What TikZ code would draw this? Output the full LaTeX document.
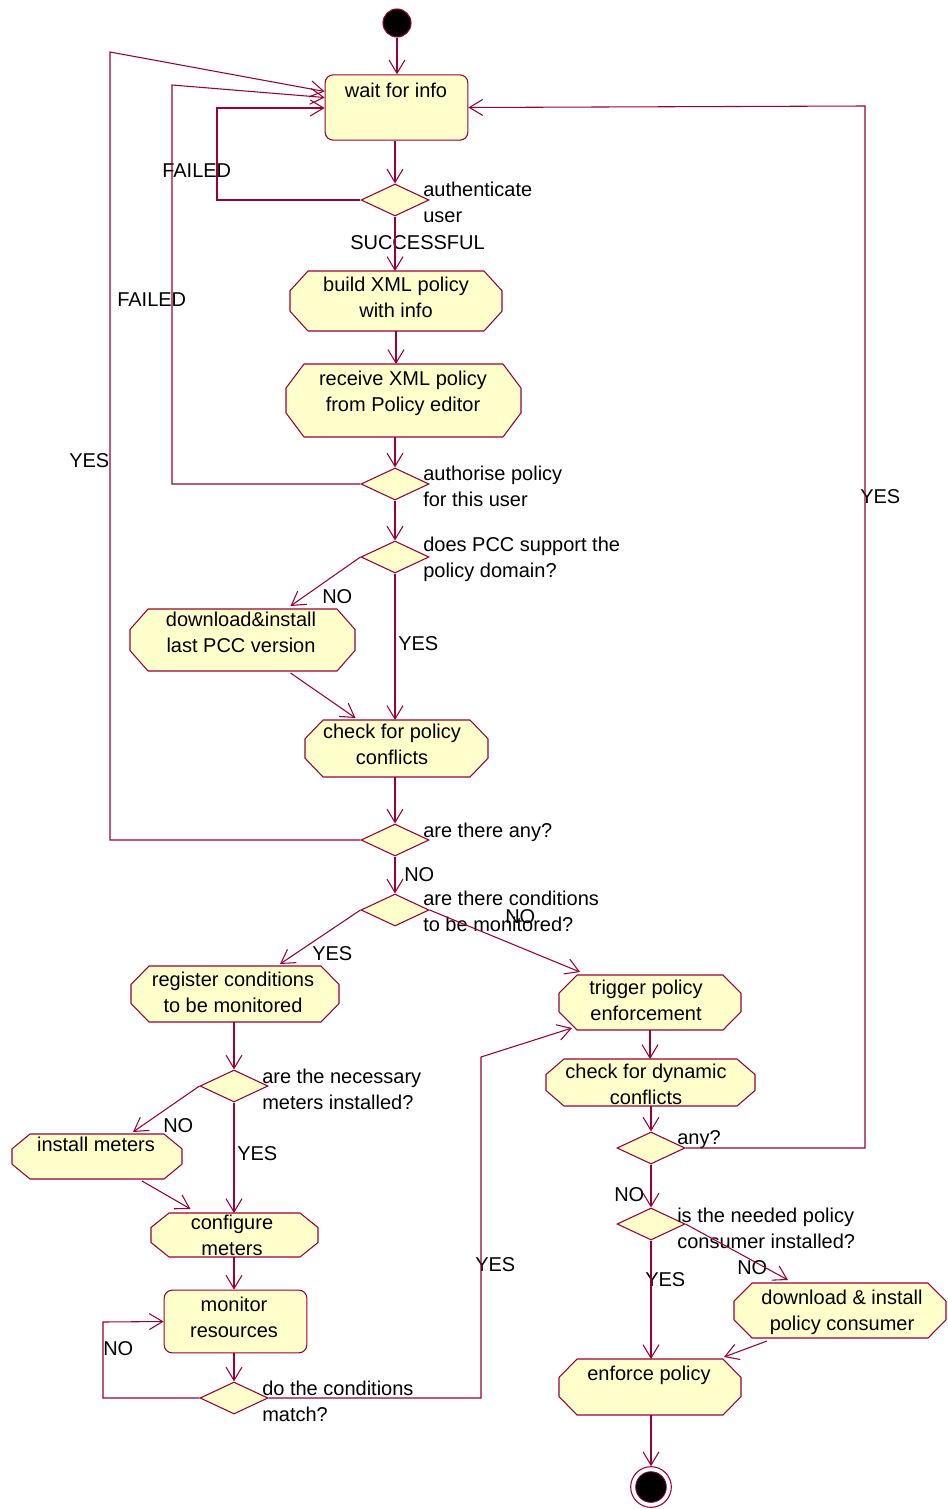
\documentclass[tikz,border=0pt]{standalone}
\usepackage{fontspec}
\setmainfont{Liberation Sans}
\usetikzlibrary{arrows.meta,shapes.geometric,calc}
\definecolor{rose}{RGB}{155,0,55}
\definecolor{actfill}{RGB}{255,255,204}
\tikzset{
  ln/.style={draw=rose, line width=0.8pt},
  arr/.style={ln, -{Straight Barb[length=10pt,width=12pt]}},
  area/.style={rectangle, draw=none, fill=none, inner sep=0pt, outer sep=0pt},
  txt/.style={inner sep=0pt, align=center, anchor=north, font=\fontsize{15}{19.5}\selectfont},
  lbl/.style={inner sep=0pt, align=left, anchor=north west, font=\fontsize{15}{19.5}\selectfont},
  dia/.style={diamond, draw=rose, fill=actfill, line width=0.8pt, minimum width=51pt, minimum height=24pt, inner sep=0pt},
  rbox/.style={rectangle, rounded corners=6pt, draw=rose, fill=actfill, line width=0.8pt, inner sep=0pt}
}
% name, left, top, right, bottom
\newcommand\actshape[5]{%
  \filldraw[ln, fill=actfill, line join=round]
    ({#2+18},#3) -- ({#4-18},#3) -- (#4,{#3+0.33*(#5-#3)}) -- (#4,{#5-0.33*(#5-#3)})
    -- ({#4-18},#5) -- ({#2+18},#5) -- (#2,{#5-0.33*(#5-#3)}) -- (#2,{#3+0.33*(#5-#3)}) -- cycle;
  \node[area, minimum width={(#4-#2)*0.75pt}, minimum height={(#5-#3)*0.75pt}] (#1) at ({(#2+#4)/2},{(#3+#5)/2}) {};
}
\begin{document}
\begin{tikzpicture}[x=0.75pt,y=-0.75pt]
\useasboundingbox (0,0) rectangle (947,1509);

% start / end
\node[circle, fill=black, draw=rose, line width=0.8pt, minimum size=21pt, inner sep=0pt] (start) at (397,23) {};
\node[circle, fill=white, draw=rose, line width=0.8pt, minimum size=30.5pt, inner sep=0pt] (endo) at (651,1487) {};
\node[circle, fill=black, draw=rose, line width=0.6pt, minimum size=23pt, inner sep=0pt] (endi) at (endo) {};

% rounded boxes
\node[rbox, minimum width=107pt, minimum height=49pt] (wait) at (396.5,107.5) {};
\node[rbox, minimum width=107pt, minimum height=47pt] (mon) at (235.5,1321.5) {};

% activity shapes
\actshape{build}{290}{271}{502}{331}
\actshape{receive}{286}{364}{521}{437}
\actshape{dl}{130}{609}{355}{671}
\actshape{check}{305}{720}{488}{777}
\actshape{reg}{131}{966}{339}{1022}
\actshape{inst}{12}{1134}{182}{1179}
\actshape{conf}{151}{1213}{318}{1257}
\actshape{trig}{559}{975}{741}{1030}
\actshape{dyn}{546}{1059}{755}{1106}
\actshape{pc}{734}{1283}{946}{1338}
\actshape{enf}{559}{1359}{741}{1415}

% decisions
\node[dia] (d1) at (395,200) {};
\node[dia] (d2) at (395,484) {};
\node[dia] (d3) at (395,557) {};
\node[dia] (d4) at (395,840) {};
\node[dia] (d5) at (395,910) {};
\node[dia] (d6) at (234,1086) {};
\node[dia] (d7) at (234,1398) {};
\node[dia] (d8) at (651,1148) {};
\node[dia] (d9) at (651,1224) {};

% box texts
\node[txt] (wait-t) at (396,82.5) {wait for info};
\node[txt] (build-t) at (396,276.5) {build XML policy\\with info};
\node[txt] (receive-t) at (403,370.5) {receive XML policy\\from Policy editor};
\node[txt] (dl-t) at (241,611.5) {download\&install\\last PCC version};
\node[txt] (check-t) at (392,723.5) {check for policy\\conflicts};
\node[txt] (reg-t) at (233,971.5) {register conditions\\to be monitored};
\node[txt] (inst-t) at (96,1136.5) {install meters};
\node[txt] (conf-t) at (232,1214.5) {configure\\meters};
\node[txt] (mon-t) at (234,1296.5) {monitor\\resources};
\node[txt] (trig-t) at (646,979.5) {trigger policy\\enforcement};
\node[txt] (dyn-t) at (646,1063.5) {check for dynamic\\conflicts};
\node[txt] (pc-t) at (842,1289.5) {download \& install\\policy consumer};
\node[txt] (enf-t) at (649,1365.5) {enforce policy};

% labels
\node[lbl] (l1) at (423,181.5) {authenticate\\user};
\node[lbl] (l2) at (162,163.5) {FAILED};
\node[lbl] (l3) at (350,235.5) {SUCCESSFUL};
\node[lbl] (l4) at (117,292.5) {FAILED};
\node[lbl] (l5) at (69,453.5) {YES};
\node[lbl] (l6) at (423,465.5) {authorise policy\\for this user};
\node[lbl] (l7) at (423,536.5) {does PCC support the\\policy domain?};
\node[lbl] (l8) at (322,589.5) {NO};
\node[lbl] (l9) at (398,636.5) {YES};
\node[lbl] (l10) at (423,822.5) {are there any?};
\node[lbl] (l11) at (404,867.5) {NO};
\node[lbl] (l12) at (423,890.5) {are there conditions\\to be monitored?};
\node[lbl] (l13) at (505,909.5) {NO};
\node[lbl] (l14) at (312,946.5) {YES};
\node[lbl] (l15) at (262,1068.5) {are the necessary\\meters installed?};
\node[lbl] (l16) at (163,1118.5) {NO};
\node[lbl] (l17) at (237,1146.5) {YES};
\node[lbl] (l18) at (262,1380.5) {do the conditions\\match?};
\node[lbl] (l19) at (103,1341.5) {NO};
\node[lbl] (l20) at (475,1257.5) {YES};
\node[lbl] (l21) at (860,489.5) {YES};
\node[lbl] (l22) at (677,1130.5) {any?};
\node[lbl] (l23) at (614,1187.5) {NO};
\node[lbl] (l24) at (677,1207.5) {is the needed policy\\consumer installed?};
\node[lbl] (l25) at (645,1272.5) {YES};
\node[lbl] (l26) at (737,1260.5) {NO};

% bend coordinates
\coordinate (f1) at (217,108);
\coordinate (f2) at (172,85);
\coordinate (y4) at (110,52);
\coordinate (n7) at (103,1322);
\coordinate (y7) at (481,1057);
\coordinate (y8) at (865,106);

% connectors
\draw[arr] (start.south) -- (start.south |- wait.north);
\draw[arr] (d1.north |- wait.south) -- (d1.north);
\draw[arr] (d1.west) -| (f1) -- (f1 -| wait.west);
\draw[arr] (d1.south) -- (d1.south |- build.north);
\draw[arr] (build.south) -- (build.south |- receive.north);
\draw[arr] (d2.north |- receive.south) -- (d2.north);
\draw[arr] (d2.west) -| (f2) -- ($(wait.west)+(0,-10)$);
\draw[arr] (d2.south) -- (d3.north);
\draw[arr] (d3.west) -- ($(dl.north)+(48,-3)$);
\draw[arr] (d3.south) -- (d3.south |- check.north);
\draw[arr] ($(dl.south)+(48,2)$) -- ($(check.north)+(-41,-2)$);
\draw[arr] (d4.north |- check.south) -- (d4.north);
\draw[arr] (d4.west) -| (y4) -- ($(wait.west)+(0,-16)$);
\draw[arr] (d4.south) -- (d5.north);
\draw[arr] (d5.west) -- ($(reg.north)+(45,-2)$);
\draw[arr] (d5.east) -- ($(trig.north)+(-70,-3)$);
\draw[arr] (d6.north |- reg.south) -- (d6.north);
\draw[arr] (d6.west) -- ($(inst.north)+(36,-2)$);
\draw[arr] (d6.south) -- (d6.south |- conf.north);
\draw[arr] ($(inst.south)+(45,2)$) -- ($(conf.north)+(-44,-4)$);
\draw[arr] (d6.south |- conf.south) -- (d6.south |- mon.north);
\draw[arr] (d7.north |- mon.south) -- (d7.north);
\draw[arr] (d7.west) -| (n7) -- (mon.west);
\draw[arr] (d7.east) -| (y7) -- ($(trig.south)+(-78,-2)$);
\draw[arr] (trig.south) -- (trig.south |- dyn.north);
\draw[arr] (d8.north |- dyn.south) -- (d8.north);
\draw[arr] (d8.east) -| (y8) -- (wait.east);
\draw[arr] (d8.south) -- (d9.north);
\draw[arr] (d9.south) -- (d9.south |- enf.north);
\draw[arr] (d9.east) -- ($(pc.north)+(-52,-3)$);
\draw[arr] ($(pc.south)+(-73,3)$) -- ($(enf.north)+(74,-2)$);
\draw[arr] (endo.north |- enf.south) -- (endo.north);
\end{tikzpicture}
\end{document}
